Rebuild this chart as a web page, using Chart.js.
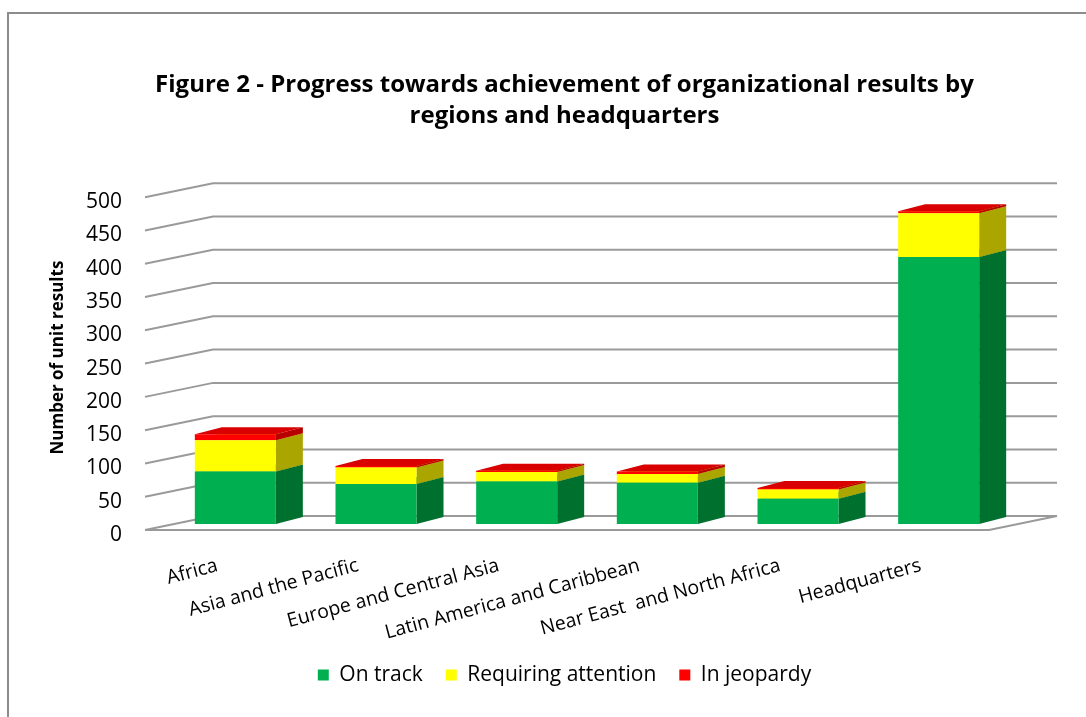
<!DOCTYPE html>
<html><head><meta charset="utf-8">
<script src="https://cdn.jsdelivr.net/npm/chart.js@4.4.1/dist/chart.umd.min.js"></script>
<style>html,body{margin:0;padding:0;background:#fff;overflow:hidden}</style>
</head><body>
<canvas id="c" width="1086" height="717"></canvas>
<script>
// ---- data ----
const categories = ["Africa", "Asia and the Pacific", "Europe and Central Asia", "Latin America and Caribbean", "Near East  and North Africa", "Headquarters"];
const seriesNames = ["On track", "Requiring attention", "In jeopardy"];
const onTrack = [79, 60, 64, 62, 38, 401];
const requiringAttention = [47, 25, 14, 13, 14, 66];
const inJeopardy = [9, 2, 2, 4, 2, 3];
const yTickMin = 0;
const yTickMax = 500;
const yTickStep = 50;
const titleLines = ["Figure 2 - Progress towards achievement of organizational results by", "regions and headquarters"];
const yAxisTitle = "Number of unit results";

// ---- styles ----
const FONT = "'Open Sans', Lato, sans-serif";
const frontColors = ["#00B050", "#FFFF00", "#FF0000"];
const sideColors = ["#00702F", "#ABA500", "#B80000"];
const topColors = ["#00903F", "#D6D300", "#D80000"];
const DEPTH_X = 27, DEPTH_Y = -7;      // bar depth
const FRONT_X = -20, FRONT_Y = 6;      // front edge of floor/side wall relative to bar plane
const BACK_X = 48, BACK_Y = -8;        // back wall relative to bar plane

function poly(ctx, pts) {
  ctx.beginPath();
  ctx.moveTo(pts[0][0], pts[0][1]);
  for (let i = 1; i < pts.length; i++) ctx.lineTo(pts[i][0], pts[i][1]);
  ctx.closePath();
  ctx.fill();
}

const scene3d = {
  id: "scene3d",
  beforeDraw(chart) {
    const ctx = chart.ctx, a = chart.chartArea, ys = chart.scales.y;
    ctx.save();
    // outer frame
    ctx.strokeStyle = "#8c8c8c";
    ctx.lineWidth = 2;
    ctx.beginPath();
    ctx.moveTo(8, chart.height + 2); ctx.lineTo(8, 13); ctx.lineTo(chart.width + 2, 13);
    ctx.stroke();
    // gridlines: side wall + back wall
    ctx.strokeStyle = "#9a9a9a";
    ctx.lineWidth = 2;
    ys.ticks.forEach(t => {
      const py = ys.getPixelForValue(t.value);
      ctx.beginPath();
      ctx.moveTo(a.left + FRONT_X, py + FRONT_Y);
      ctx.lineTo(a.left + BACK_X, py + BACK_Y);
      ctx.lineTo(a.right + BACK_X, py + BACK_Y);
      ctx.stroke();
    });
    // floor edges
    const p0 = ys.getPixelForValue(0);
    ctx.beginPath();
    ctx.moveTo(a.left + FRONT_X, p0 + FRONT_Y);
    ctx.lineTo(a.right + FRONT_X, p0 + FRONT_Y);
    ctx.lineTo(a.right + BACK_X, p0 + BACK_Y);
    ctx.stroke();
    ctx.restore();
  },
  beforeDatasetsDraw(chart) {
    const ctx = chart.ctx;
    ctx.save();
    chart.data.datasets.forEach((ds, d) => {
      const meta = chart.getDatasetMeta(d);
      meta.data.forEach(bar => {
        const p = bar.getProps(["x", "y", "base", "width"], true);
        const l = p.x - p.width / 2, r = p.x + p.width / 2;
        const top = Math.min(p.y, p.base), bot = Math.max(p.y, p.base);
        ctx.fillStyle = topColors[d];
        poly(ctx, [[l, top], [r, top], [r + DEPTH_X, top + DEPTH_Y], [l + DEPTH_X, top + DEPTH_Y]]);
        ctx.fillStyle = sideColors[d];
        poly(ctx, [[r, top], [r + DEPTH_X, top + DEPTH_Y], [r + DEPTH_X, bot + DEPTH_Y], [r, bot]]);
      });
    });
    ctx.restore();
  }
};

const seriesValues = [onTrack, requiringAttention, inJeopardy];
new Chart(document.getElementById("c"), {
  type: "bar",
  data: {
    labels: categories,
    datasets: seriesNames.map((n, i) => ({
      label: n,
      data: seriesValues[i],
      backgroundColor: frontColors[i],
      borderWidth: 0,
      barPercentage: 0.576,
      categoryPercentage: 1.0
    }))
  },
  options: {
    responsive: false,
    animation: false,
    layout: { padding: { left: 53, right: 10, top: 0, bottom: 21.5 } },
    plugins: {
      title: {
        display: true, text: titleLines, color: "#000",
        font: { family: FONT, size: 24, weight: "bold", lineHeight: 1.3 },
        padding: { top: 69.4, bottom: 59.4 }
      },
      legend: {
        position: "bottom",
        labels: { boxWidth: 11, boxHeight: 11, color: "#000", padding: 23, font: { family: FONT, size: 21 } }
      },
      tooltip: { enabled: false }
    },
    scales: {
      x: {
        stacked: true,
        grid: { display: false, drawTicks: false },
        border: { display: false },
        ticks: { autoSkip: false, minRotation: 15, maxRotation: 15, labelOffset: -18, padding: 30, color: "#000", font: { family: FONT, size: 19.5 } },
        afterFit(s) { s.height = 117.5; }
      },
      y: {
        stacked: true, min: yTickMin, max: yTickMax,
        grid: { display: false, drawTicks: false },
        border: { display: false },
        ticks: { stepSize: yTickStep, padding: 43, labelOffset: 11, color: "#000", font: { family: FONT, size: 21 } },
        title: { display: true, text: yAxisTitle, color: "#000", font: { family: FONT, size: 17, weight: "bold" }, padding: { top: -5, bottom: 0 } },
        afterFit(s) { s.width = 112; }
      },
      y2: {
        position: "right", display: true,
        grid: { display: false, drawTicks: false },
        border: { display: false },
        ticks: { display: false },
        afterFit(s) { s.width = 67; }
      }
    }
  },
  plugins: [scene3d]
});
</script>
</body></html>
